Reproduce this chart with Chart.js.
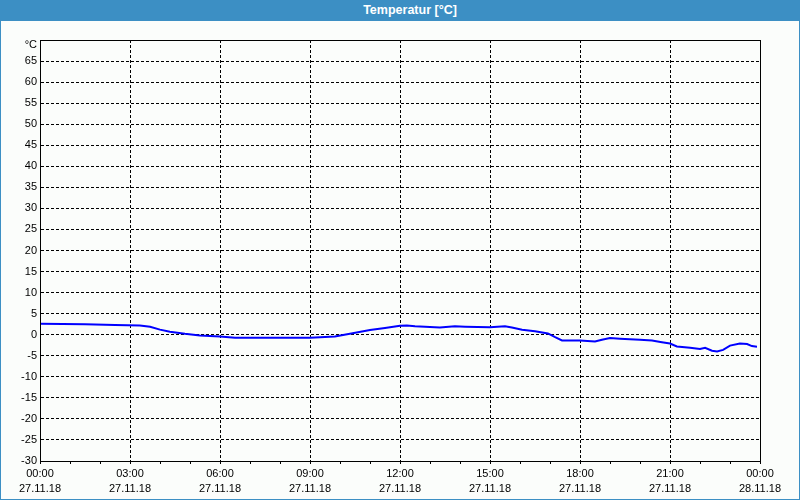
<!DOCTYPE html>
<html>
<head>
<meta charset="utf-8">
<title>Temperatur</title>
<script src="https://cdn.jsdelivr.net/npm/chart.js@4.4.1/dist/chart.umd.min.js"></script>
<style>
    html, body { margin: 0; padding: 0; }
    body {
        width: 800px; height: 500px; overflow: hidden; position: relative;
        background: #3c8fc4;
        font-family: "Liberation Sans", Arial, sans-serif;
    }
    #titel {
        height: 21px; line-height: 21px; padding-left: 20px;
        color: #fff; font-weight: bold; font-size: 12.5px; text-align: center;
    }
    #rahmen {
        position: absolute; left: 1px; top: 21px;
        width: 798px; height: 478px; background: #fbfdfb;
    }
    canvas { display: block; }
</style>
</head>
<body>
<div id="titel">Temperatur [°C]</div>
<div id="rahmen"><canvas id="tempChart" width="798" height="478"></canvas></div>

<script>
// Messzeitpunkte (Stunden ab 27.11.18 00:00) und Temperaturen in °C
const stunden = [
    0.0, 1.5, 2.5, 3.33, 3.67, 4.0, 4.33, 4.83, 5.33, 6.0, 6.5,
    9.0, 9.83, 10.33, 11.0, 11.5, 12.0, 12.23, 12.5, 13.33, 13.83, 14.17,
    15.0, 15.5, 15.73, 16.07, 16.5, 16.93, 17.17, 17.4, 18.0, 18.5, 18.73,
    19.0, 19.33, 20.0, 20.4, 20.73, 21.0, 21.23, 21.67, 22.0, 22.17, 22.4,
    22.57, 22.77, 23.0, 23.33, 23.57, 23.73, 23.9
];
const temperaturen = [
    2.6, 2.5, 2.3, 2.2, 1.9, 1.2, 0.7, 0.2, -0.2, -0.4, -0.7,
    -0.7, -0.4, 0.2, 1.1, 1.6, 2.1, 2.2, 2.0, 1.7, 2.0, 1.9,
    1.75, 2.0, 1.7, 1.2, 0.8, 0.3, -0.6, -1.35, -1.4, -1.6, -1.2,
    -0.8, -0.95, -1.2, -1.4, -1.8, -2.1, -2.8, -3.1, -3.4, -3.1, -3.8,
    -4.0, -3.6, -2.6, -2.1, -2.2, -2.7, -2.85
];

// Beschriftung der x-Achse (alle 3 Stunden)
const zeitLabels = ['00:00', '03:00', '06:00', '09:00', '12:00', '15:00', '18:00', '21:00', '00:00'];
const datumLabels = ['27.11.18', '27.11.18', '27.11.18', '27.11.18', '27.11.18',
                     '27.11.18', '27.11.18', '27.11.18', '28.11.18'];

// y-Achse
const yMin = -30;
const yMax = 70;
const yEinheit = '°C';

const schrift = { family: '"Liberation Sans", Arial, sans-serif', size: 11 };
const strich = [3, 2];

// Rahmen um das Diagramm
const rahmenPlugin = {
    id: 'rahmen',
    afterDatasetsDraw(chart) {
        const a = chart.chartArea;
        const ctx = chart.ctx;
        ctx.save();
        ctx.strokeStyle = '#000';
        ctx.lineWidth = 1;
        ctx.strokeRect(Math.round(a.left) + 0.5, Math.round(a.top) + 0.5,
                       Math.round(a.right - a.left), Math.round(a.bottom - a.top));
        ctx.restore();
    }
};

new Chart(document.getElementById('tempChart').getContext('2d'), {
    type: 'line',
    data: {
        datasets: [{
            label: 'Temperatur',
            data: stunden.map(function (h, i) { return { x: h, y: temperaturen[i] }; }),
            borderColor: '#0000ff',
            borderWidth: 2,
            pointRadius: 0,
            tension: 0,
            fill: false
        }]
    },
    options: {
        responsive: false,
        animation: false,
        devicePixelRatio: 1,
        layout: { padding: { top: 19, right: 39, left: 0, bottom: 0 } },
        plugins: {
            legend: { display: false },
            tooltip: { enabled: false }
        },
        scales: {
            x: {
                type: 'linear',
                min: 0,
                max: 24,
                afterFit: function (scale) { scale.height = 38; },
                ticks: {
                    stepSize: 1,
                    autoSkip: false,
                    maxRotation: 0,
                    color: '#000',
                    padding: 2,
                    font: Object.assign({ lineHeight: 1.4 }, schrift),
                    callback: function (v) {
                        if (v % 3 !== 0) return '';
                        return [zeitLabels[v / 3], datumLabels[v / 3]];
                    }
                },
                grid: {
                    color: function (c) {
                        return c.tick && c.tick.value % 3 === 0 ? '#000' : 'rgba(0,0,0,0)';
                    },
                    tickColor: '#000',
                    tickLength: 3,
                    lineWidth: 1
                },
                border: { display: true, color: '#000', dash: strich }
            },
            y: {
                min: yMin,
                max: yMax,
                afterFit: function (scale) { scale.width = 39; },
                ticks: {
                    stepSize: 5,
                    autoSkip: false,
                    color: '#000',
                    padding: 3,
                    font: Object.assign({ lineHeight: 0.9 }, schrift),
                    // Einheit unterhalb der obersten Linie
                    callback: function (v) { return v === yMax ? ['', yEinheit] : v; }
                },
                grid: {
                    color: '#000',
                    drawTicks: false,
                    lineWidth: 1
                },
                border: { display: true, color: '#000', dash: strich }
            }
        }
    },
    plugins: [rahmenPlugin]
});
</script>
</body>
</html>
